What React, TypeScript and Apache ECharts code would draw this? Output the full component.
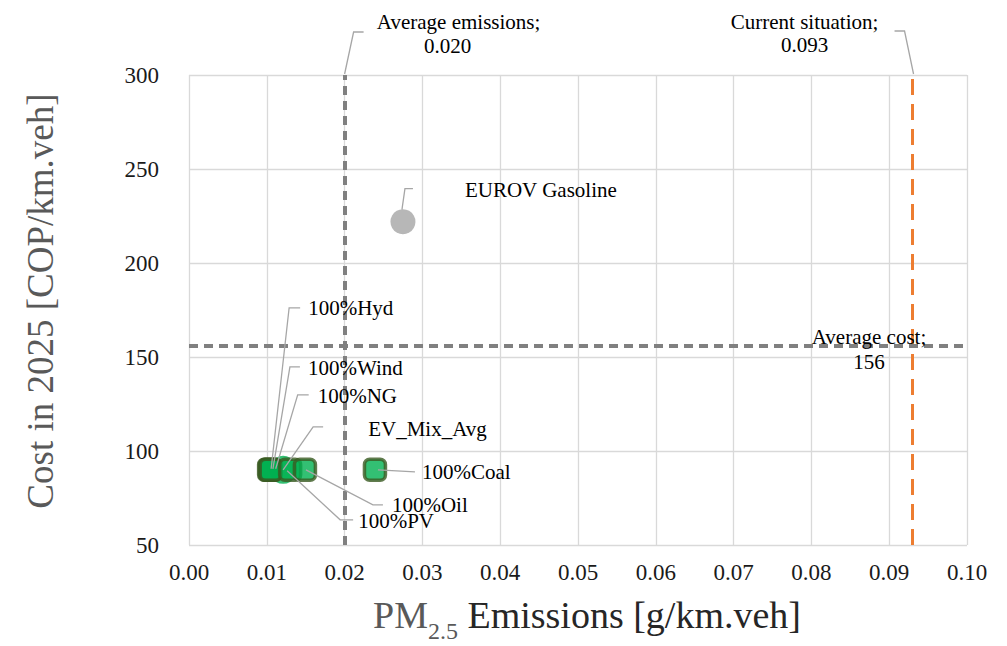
import React, { useEffect, useRef } from "react";
import * as echarts from "echarts";

// ---- data ----
const xMin = 0;
const xMax = 0.1;
const xStep = 0.01;
const yMin = 50;
const yMax = 300;
const yStep = 50;

const gasolineName = "EUROV Gasoline";
const gasolineX = [0.0275];
const gasolineY = [222];

const evMixName = "EV_Mix_Avg";
const evMixX = [0.0121];
const evMixY = [90];

const mixNames = ["100%Hyd", "100%Wind", "100%NG", "100%PV", "100%Oil", "100%Coal"];
const mixX = [0.0103, 0.0104, 0.0105, 0.013, 0.0149, 0.0239];
const mixY = [90, 90, 90, 90, 90, 90];

const avgEmissions = 0.02;
const currentSituation = 0.093;
const avgCost = 156;

// ---- label placement (pixel offsets from the point) ----
type Lay = { s: number[]; e: number[]; h: number[]; t: number[] };
const labelLayout: Record<string, Lay> = {
  "100%Hyd": { s: [2, -1], e: [20, -162], h: [31, -162], t: [39, -162] },
  "100%Wind": { s: [3, -1], e: [20, -103], h: [30, -103], t: [38, -102] },
  "100%NG": { s: [5, -1], e: [27, -75], h: [38, -75], t: [47, -74] },
  "100%PV": { s: [-3, 1], e: [50, 50], h: [63, 50], t: [68, 51] },
  "100%Oil": { s: [1, 0], e: [68, 35], h: [78, 35], t: [87, 35] },
  "100%Coal": { s: [3, 0], e: [40, 2], h: [40, 2], t: [47, 2] },
  EV_Mix_Avg: { s: [0, 0], e: [30, -43], h: [40, -43], t: [85, -41] },
  "EUROV Gasoline": { s: [-1, -12], e: [2, -33], h: [10, -33], t: [62, -32] },
};

const FONT = "'Liberation Serif', 'Times New Roman', Times, serif";
const LEADER = "#A6A6A6";
const LABEL_SIZE = 21;

export default function App() {
  const ref = useRef<HTMLDivElement>(null);
  useEffect(() => {
    document.body.style.margin = "0";
    const chart = echarts.init(ref.current!, undefined, { renderer: "svg" });
    const option: any = {
      animation: false,
      textStyle: { fontFamily: FONT },
      grid: { left: 189, right: 40, top: 75, bottom: 101, containLabel: false, outerBoundsMode: "none" },
      xAxis: {
        type: "value",
        min: xMin,
        max: xMax,
        interval: xStep,
        axisLine: { show: false },
        axisTick: { show: false },
        splitLine: { show: true, lineStyle: { color: "#D9D9D9", width: 1.3 } },
        axisLabel: {
          formatter: (v: number) => v.toFixed(2),
          fontSize: 23,
          color: "#1a1a1a",
          fontFamily: FONT,
          margin: 16,
        },
        name: "{pm|PM}{sub|2.5}{rest| Emissions [g/km.veh]}",
        nameLocation: "middle",
        nameGap: 47,
        nameTextStyle: {
          fontFamily: FONT,
          padding: [0, 0, 0, 18],
          rich: {
            pm: { fontSize: 38, color: "#595959", fontFamily: FONT, verticalAlign: "bottom", lineHeight: 42 },
            sub: { fontSize: 24, color: "#595959", fontFamily: FONT, verticalAlign: "bottom", lineHeight: 24, padding: [0, 0, -9, 0] },
            rest: { fontSize: 38, color: "#262626", fontFamily: FONT, verticalAlign: "bottom", lineHeight: 42 },
          },
        },
      },
      yAxis: {
        type: "value",
        min: yMin,
        max: yMax,
        interval: yStep,
        axisLine: { show: false },
        axisTick: { show: false },
        splitLine: { show: true, lineStyle: { color: "#D9D9D9", width: 1.3 } },
        axisLabel: { fontSize: 23, color: "#1a1a1a", fontFamily: FONT, margin: 30 },
        name: "Cost in 2025 [COP/km.veh]",
        nameLocation: "middle",
        nameGap: 130,
        nameTextStyle: { fontSize: 37, color: "#595959", fontFamily: FONT, padding: [0, 0, 0, 18] },
      },
      series: [
        {
          name: gasolineName,
          type: "scatter",
          symbol: "circle",
          symbolSize: 25,
          itemStyle: { color: "#A5A5A5" },
          data: gasolineX.map((x, i) => [x, gasolineY[i]]),
          markLine: {
            silent: true,
            symbol: "none",
            precision: 4,
            label: { show: false },
            data: [
              { xAxis: avgEmissions, lineStyle: { color: "#808080", width: 4, type: [9, 6] } },
              { xAxis: currentSituation, lineStyle: { color: "#ED7D31", width: 3, type: [16, 9] } },
              { yAxis: avgCost, lineStyle: { color: "#808080", width: 4, type: [9, 6] } },
            ],
          },
        },
        {
          name: evMixName,
          type: "scatter",
          symbol: "circle",
          symbolSize: 28,
          itemStyle: { color: "#00B050" },
          data: evMixX.map((x, i) => [x, evMixY[i]]),
        },
        {
          name: "Electricity mixes",
          type: "scatter",
          symbol: "roundRect",
          symbolSize: 21,
          itemStyle: { color: "#00B050", borderColor: "#3A5A22", borderWidth: 3.5 },
          data: mixX.map((x, i) => ({ name: mixNames[i], value: [x, mixY[i]] })),
        },
      ],
    };
    chart.setOption(option);

    const px = (x: number, y: number) =>
      chart.convertToPixel({ xAxisIndex: 0, yAxisIndex: 0 }, [x, y]) as number[];

    const graphics: any[] = [];
    const addLabel = (name: string, x: number, y: number) => {
      const p = px(x, y);
      const l = labelLayout[name];
      if (!l) return;
      graphics.push({
        type: "polyline",
        silent: true,
        z: 10,
        shape: {
          points: [
            [p[0] + l.s[0], p[1] + l.s[1]],
            [p[0] + l.e[0], p[1] + l.e[1]],
            [p[0] + l.h[0], p[1] + l.h[1]],
          ],
        },
        style: { stroke: LEADER, lineWidth: 1.3, fill: null },
      });
      graphics.push({
        type: "text",
        z: 11,
        x: p[0] + l.t[0],
        y: p[1] + l.t[1],
        style: { text: name, fontSize: LABEL_SIZE, fontFamily: FONT, fill: "#000", align: "left", verticalAlign: "middle" },
      });
    };
    gasolineX.forEach((x, i) => addLabel(gasolineName, x, gasolineY[i]));
    evMixX.forEach((x, i) => addLabel(evMixName, x, evMixY[i]));
    mixX.forEach((x, i) => addLabel(mixNames[i], x, mixY[i]));

    const txt = (text: string, x: number, y: number) => ({
      type: "text",
      z: 11,
      x,
      y,
      style: { text, fontSize: LABEL_SIZE, fontFamily: FONT, fill: "#000", align: "center", verticalAlign: "middle" },
    });

    // Average emissions reference label
    const a = px(avgEmissions, yMax);
    graphics.push({
      type: "polyline",
      z: 10,
      shape: { points: [[a[0], a[1] - 1], [a[0] + 9, a[1] - 43], [a[0] + 19, a[1] - 43]] },
      style: { stroke: LEADER, lineWidth: 1.3, fill: null },
    });
    graphics.push(txt("Average emissions;", a[0] + 114, a[1] - 53));
    graphics.push(txt(avgEmissions.toFixed(3), a[0] + 103, a[1] - 29));

    // Current situation label
    const c = px(currentSituation, yMax);
    graphics.push({
      type: "polyline",
      z: 10,
      shape: { points: [[c[0] + 1, c[1] - 1], [c[0] - 8, c[1] - 44], [c[0] - 18, c[1] - 44]] },
      style: { stroke: LEADER, lineWidth: 1.3, fill: null },
    });
    graphics.push(txt("Current situation;", c[0] - 108, c[1] - 53));
    graphics.push(txt(currentSituation.toFixed(3), c[0] - 108, c[1] - 30));

    // Average cost label
    const k = px(xMax, avgCost);
    graphics.push(txt("Average cost;", k[0] - 98, k[1] - 9));
    graphics.push(txt(String(avgCost), k[0] - 98, k[1] + 16));

    chart.setOption({ graphic: graphics });

    return () => chart.dispose();
  }, []);
  return <div ref={ref} style={{ width: 1007, height: 646 }} />;
}
